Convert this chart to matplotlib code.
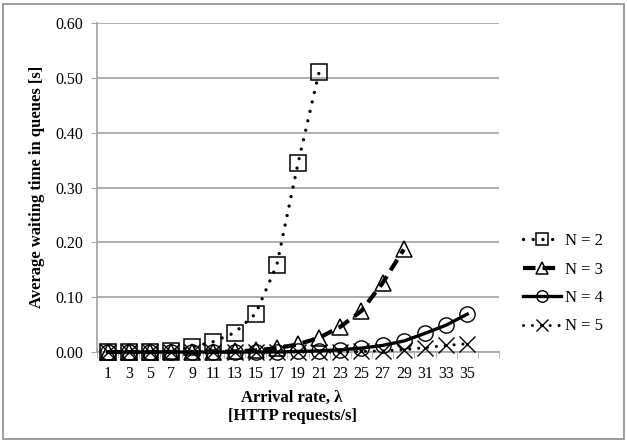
import matplotlib
matplotlib.use("Agg")
import matplotlib.pyplot as plt
from matplotlib.patches import Rectangle
import numpy as np

plt.rcParams["font.family"] = ["Liberation Serif", "DejaVu Serif"]

# Arrival rates (categories) and average waiting times per number of servers
arrival_rates = [1, 3, 5, 7, 9, 11, 13, 15, 17, 19, 21, 23, 25, 27, 29, 31, 33, 35]
wait_n2 = [0.000, 0.000, 0.000, 0.001, 0.009, 0.019, 0.035, 0.070, 0.159, 0.344, 0.511]
wait_n3 = [0.000, 0.000, 0.000, 0.000, 0.000, 0.000, 0.001, 0.003, 0.007, 0.014,
           0.026, 0.046, 0.075, 0.126, 0.187]
wait_n4 = [0.000, 0.000, 0.000, 0.000, 0.000, 0.000, 0.000, 0.000, 0.000, 0.001,
           0.002, 0.004, 0.007, 0.012, 0.020, 0.034, 0.049, 0.069]
wait_n5 = [0.000, 0.000, 0.000, 0.000, 0.000, 0.000, 0.000, 0.000, 0.000, 0.000,
           0.000, 0.000, 0.001, 0.002, 0.004, 0.008, 0.012, 0.015]
series_labels = ["N = 2", "N = 3", "N = 4", "N = 5"]
y_ticks = [0.0, 0.1, 0.2, 0.3, 0.4, 0.5, 0.6]

W, H = 627, 441
fig = plt.figure(figsize=(W / 100, H / 100), dpi=100)
fig.patch.set_facecolor("white")

# outer chart border
fig.add_artist(Rectangle((3 / W, 2 / H), (W - 6) / W, (H - 6) / H,
                         transform=fig.transFigure, fill=False,
                         edgecolor="#8c8c8c", linewidth=1.2))

left, right, top, bottom = 97, 499, 23, 352
ax = fig.add_axes([left / W, (H - bottom) / H, (right - left) / W, (bottom - top) / H])

grid_c = "#a8a8a8"
styles = [
    dict(ls=(0, (0.01, 2.9)), lw=2.4, marker="s", ms=11, mew=1.1,
         dash_capstyle="round"),
    dict(ls=(0, (3.0, 1.7)), lw=3.0, marker="^", ms=11, mew=1.1),
    dict(ls="-", lw=2.4, marker="o", ms=11, mew=1.0),
    dict(ls=(0, (0.01, 2.9)), lw=2.2, marker="x", ms=11, mew=1.0,
         dash_capstyle="round"),
]
series = [wait_n2, wait_n3, wait_n4, wait_n5]
pos = np.arange(len(arrival_rates))

handles = []
for vals, st, lab in zip(series, styles, series_labels):
    x = pos[:len(vals)]
    ln, = ax.plot(x, vals, color="black", mfc="none", mec="black", label=lab,
                  clip_on=False, zorder=3, **st)
    handles.append(ln)

ax.set_xlim(-0.5, len(arrival_rates) + 0.5)
ax.set_ylim(0, 0.6)
ax.set_yticks(y_ticks)
ax.set_yticklabels([f"{v:.2f}" for v in y_ticks], fontsize=11.5)
ax.set_xticks(pos)
ax.set_xticklabels([str(a) for a in arrival_rates], fontsize=11.5)
ax.set_xticks(np.arange(-0.5, len(arrival_rates) + 1, 1.0), minor=True)
ax.tick_params(axis="x", which="major", length=0, pad=10)
ax.tick_params(axis="x", which="minor", length=4, color=grid_c, direction="out")
ax.tick_params(axis="y", length=4, color=grid_c, direction="out", pad=6)

ax.yaxis.grid(True, color=grid_c, linewidth=1.3)
ax.set_axisbelow(True)
for s in ["top", "right"]:
    ax.spines[s].set_visible(False)
for s in ["left", "bottom"]:
    ax.spines[s].set_color(grid_c)
    ax.spines[s].set_linewidth(1.3)

fig.text(37 / W, 1 - 187 / H, "Average waiting time in queues [s]", rotation=90,
         ha="center", va="center", fontsize=12, fontweight="bold")
fig.text(292 / W, 1 - 407 / H, "Arrival rate, λ\n[HTTP requests/s]", ha="center",
         va="center", fontsize=12, fontweight="bold", linespacing=1.25)

fig.legend(handles=handles, loc="upper left",
           bbox_to_anchor=(508 / W, 1 - 218 / H), frameon=False,
           fontsize=12, handlelength=2.3, handletextpad=0.2,
           labelspacing=0.75, markerscale=0.75)

fig.savefig("out.png", dpi=100)
